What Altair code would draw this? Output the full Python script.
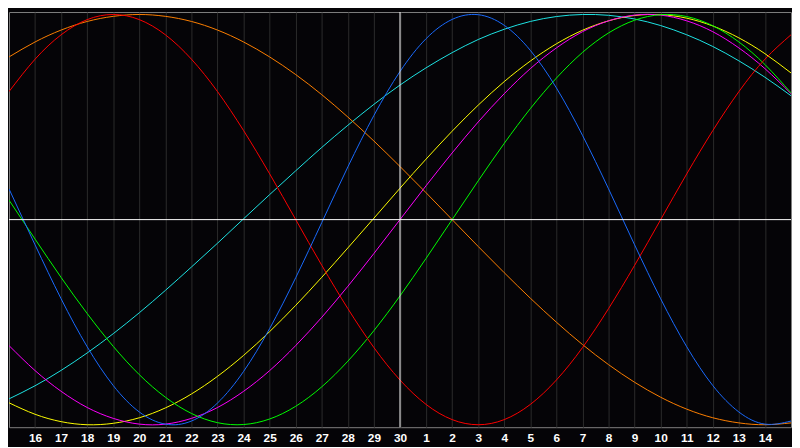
import altair as alt
import pandas as pd

day_index = list(range(31))
tick_labels = ["16", "17", "18", "19", "20", "21", "22", "23", "24", "25", "26", "27", "28", "29", "30",
               "1", "2", "3", "4", "5", "6", "7", "8", "9", "10", "11", "12", "13", "14"]
center_day = [15]

physical = [0.150, -0.123, -0.386, -0.620, -0.809, -0.938, -0.997, -0.982, -0.894, -0.740, -0.531,
            -0.283, -0.014, 0.257, 0.508, 0.722, 0.882, 0.976, 0.999, 0.947, 0.825, 0.642,
            0.411, 0.150, -0.123, -0.386, -0.620, -0.809, -0.938, -0.997, -0.982]
emotional = [0.624, 0.782, 0.901, 0.975, 1.000, 0.975, 0.901, 0.782, 0.624, 0.434, 0.223,
             0.000, -0.223, -0.434, -0.624, -0.782, -0.901, -0.975, -1.000, -0.975, -0.901, -0.782,
             -0.624, -0.434, -0.223, 0.000, 0.223, 0.434, 0.624, 0.782, 0.901]
intellectual = [0.095, -0.095, -0.282, -0.458, -0.618, -0.756, -0.866, -0.945, -0.990, -0.999, -0.972,
                -0.910, -0.815, -0.690, -0.541, -0.372, -0.189, 0.000, 0.189, 0.372, 0.541, 0.690,
                0.815, 0.910, 0.972, 0.999, 0.990, 0.945, 0.866, 0.756, 0.618]
intuitive = [-0.614, -0.736, -0.837, -0.916, -0.969, -0.997, -0.997, -0.969, -0.916, -0.837, -0.736,
             -0.614, -0.476, -0.325, -0.165, 0.000, 0.165, 0.325, 0.476, 0.614, 0.736, 0.837,
             0.916, 0.969, 0.997, 0.997, 0.969, 0.916, 0.837, 0.736, 0.614]
aesthetic = [-0.893, -0.949, -0.985, -1.000, -0.993, -0.966, -0.918, -0.850, -0.764, -0.662, -0.546,
             -0.418, -0.281, -0.138, 0.007, 0.153, 0.295, 0.431, 0.558, 0.673, 0.773, 0.857,
             0.923, 0.969, 0.995, 0.999, 0.982, 0.944, 0.886, 0.809, 0.715]
awareness = [0.793, 0.866, 0.924, 0.966, 0.991, 1.000, 0.991, 0.966, 0.924, 0.866, 0.793,
             0.707, 0.609, 0.500, 0.383, 0.259, 0.131, 0.000, -0.131, -0.259, -0.383, -0.500,
             -0.609, -0.707, -0.793, -0.866, -0.924, -0.966, -0.991, -1.000, -0.991]
spiritual = [-0.874, -0.810, -0.735, -0.650, -0.556, -0.454, -0.345, -0.231, -0.115, 0.004, 0.122,
             0.238, 0.352, 0.460, 0.562, 0.656, 0.740, 0.814, 0.878, 0.928, 0.966, 0.990,
             1.000, 0.996, 0.978, 0.946, 0.901, 0.844, 0.774, 0.694, 0.604]

series_names = ["Spiritual", "Awareness", "Aesthetic", "Intuitive", "Intellectual", "Emotional", "Physical"]
series_values = [spiritual, awareness, aesthetic, intuitive, intellectual, emotional, physical]
series_colors = ["#1ee6e6", "#ff8000", "#ffff00", "#ff00ff", "#00ff00", "#ff0000", "#1a6cff"]

rows = []
for name, vals in zip(series_names, series_values):
    for t, v in zip(day_index, vals):
        rows.append({"day": t, "value": v, "series": name})
df = pd.DataFrame(rows)
center_df = pd.DataFrame({"day": center_day})

label_expr = "[" + ",".join("'%s'" % s for s in tick_labels) + "][datum.value - 1]"

x_axis = alt.Axis(
    values=list(range(1, 30)),
    labelExpr=label_expr,
    grid=True,
    gridColor="#2c2c2c",
    gridWidth=1,
    domain=False,
    ticks=False,
    labelColor="#ffffff",
    labelFont="Liberation Sans",
    labelFontWeight="bold",
    labelFontSize=12,
    labelPadding=6,
    labelAngle=0,
    labelBaseline="top",
    labelFlush=False,
    labelOverlap=False,
    labelBound=False,
    title=None,
)
x_scale = alt.Scale(domain=[0, 30], nice=False, zero=False)
y_scale = alt.Scale(domain=[-1.012, 1.012], nice=False, zero=False)

lines = alt.Chart(df).mark_line(strokeWidth=1, interpolate="natural", clip=True).encode(
    x=alt.X("day:Q", scale=x_scale, axis=x_axis),
    y=alt.Y("value:Q", scale=y_scale, axis=None),
    color=alt.Color("series:N", scale=alt.Scale(domain=series_names, range=series_colors), legend=None),
    detail="series:N",
)

vrule = alt.Chart(center_df).mark_rule(color="#ffffff", strokeWidth=1).encode(
    x=alt.X("day:Q", scale=x_scale, axis=x_axis)
)
hrule = alt.Chart(center_df).mark_rule(color="#ffffff", strokeWidth=1).encode(y=alt.datum(0))

chart = alt.layer(lines, vrule, hrule).properties(
    width=793, height=421, padding=0, background="#050407"
).configure_view(stroke="#808080", strokeWidth=1).configure_axisX(labelOverlap=False)

chart.save("out.html", embed_options={"renderer": "svg", "actions": False})
